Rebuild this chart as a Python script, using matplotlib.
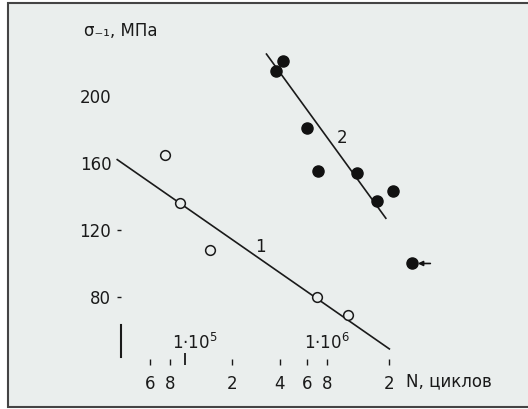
import matplotlib.pyplot as plt
from matplotlib.patches import Rectangle

# кривая 1 - светлые точки
N1 = [7.5e4, 9.3e4, 1.44e5, 6.9e5, 1.09e6]
s1 = [165, 136, 108, 80, 69]
N1_line = [3.7e4, 2.0e6]
s1_line = [162, 49]

# кривая 2 - темные точки (последняя - без разрушения)
N2 = [4.2e5, 3.8e5, 6.0e5, 7.0e5, 1.25e6, 1.67e6, 2.1e6, 2.8e6]
s2 = [221, 215, 181, 155, 154, 137, 143, 100]
N2_line = [3.3e5, 1.9e6]
s2_line = [225, 127]

x_minor = [6e4, 8e4, 2e5, 4e5, 6e5, 8e5, 2e6]
x_minor_labels = ['6', '8', '2', '4', '6', '8', '2']
y_ticks = [80, 120, 160, 200]

plt.rcParams['font.family'] = ['DejaVu Sans']
ink = '#1a1a1a'
fs = 12

fig = plt.figure(figsize=(5.28, 4.09), dpi=100)
# рамка открыта справа
fig.patches.append(Rectangle((8 / 528, 2 / 409), 1.2, 404 / 409, transform=fig.transFigure,
                             facecolor='#eaeeed', edgecolor='#444444', lw=1.5, zorder=-1))

ax = fig.add_axes([121 / 528, 44 / 409, 309 / 528, 325 / 409])
ax.set_facecolor('none')
ax.set_xscale('log')
ax.set_xlim(3.91e4, 3.63e6)
ax.set_ylim(39.4, 233.4)

# линии
ax.plot(N1_line, s1_line, color=ink, lw=1.2, clip_on=False)
ax.plot(N2_line, s2_line, color=ink, lw=1.2, clip_on=False)

# точки
ax.plot(N1, s1, 'o', ms=7, mfc='#eaeeed', mec=ink, mew=1.1, clip_on=False)
ax.plot(N2, s2, 'o', ms=8, color='#111111', clip_on=False)
ax.annotate('', xy=(N2[-1], s2[-1]), xytext=(13, 0), textcoords='offset points',
            arrowprops=dict(arrowstyle='-|>', color='#111111', lw=1.2,
                            shrinkA=0, shrinkB=4, mutation_scale=7))

ax.text(3.0e5, 110, '1', ha='center', va='center', fontsize=fs, color=ink)
ax.text(1.0e6, 175, '2', ha='center', va='center', fontsize=fs, color=ink)

# ось N
ax.set_xticks([1e5])
ax.set_xticklabels([''])
ax.set_xticks(x_minor, x_minor_labels, minor=True)
ax.tick_params(axis='x', which='major', direction='in', length=8.5, width=1.3, color=ink)
ax.tick_params(axis='x', which='minor', direction='in', length=4, width=1, pad=7,
               labelsize=fs, color=ink, labelcolor=ink)
trans = ax.get_xaxis_transform()
ax.text(1.15e5, 0.068, '1·10$^5$', transform=trans, ha='center', va='center', fontsize=fs, color=ink)
ax.text(8.0e5, 0.068, '1·10$^6$', transform=trans, ha='center', va='center', fontsize=fs, color=ink)
ax.text(2.55e6, -0.049, 'N, циклов', transform=trans, ha='left', va='center', fontsize=fs, color=ink)

# ось sigma
ax.set_yticks(y_ticks)
ax.tick_params(axis='y', direction='out', length=3, width=1, pad=4,
               labelsize=fs, color=ink, labelcolor=ink)
for t in ax.yaxis.get_major_ticks()[2:]:
    t.tick1line.set_visible(False)
fig.text(84 / 528, 1 - 31 / 409, 'σ₋₁, МПа', ha='left', va='center', fontsize=fs, color=ink)

for side in ['top', 'right', 'bottom']:
    ax.spines[side].set_visible(False)
ax.spines['left'].set_bounds(44, 63)
ax.spines['left'].set_linewidth(1.5)
ax.spines['left'].set_color(ink)

fig.savefig('out.png', dpi=100, facecolor='white')
